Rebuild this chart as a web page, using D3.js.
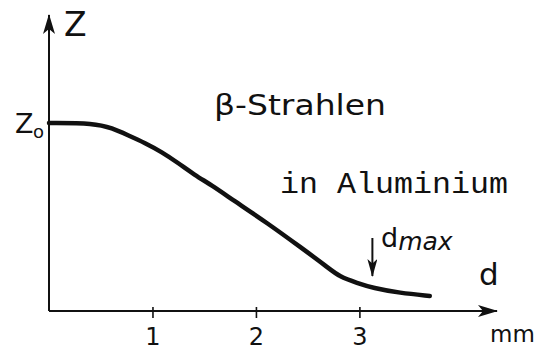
<!DOCTYPE html>
<html>
<head>
<meta charset="utf-8">
<script src="https://cdn.jsdelivr.net/npm/d3@7"></script>
<style>
  html, body { margin: 0; padding: 0; background: #fff; }
  svg { display: block; }
  text { fill: #111; }
</style>
</head>
<body>
<svg id="chart" width="536" height="351"></svg>
<script>
// Absorption of beta rays in aluminium: relative count rate Z vs. thickness d
const depthMM = [0, 0.44, 0.61, 0.76, 0.93, 1.09, 1.25, 1.41, 1.57, 1.78, 2.11, 2.43, 2.69, 2.81, 2.98, 3.13, 3.39, 3.68];
const countZ  = [1, 1, 0.973, 0.936, 0.894, 0.846, 0.787, 0.723, 0.670, 0.590, 0.468, 0.340, 0.234, 0.181, 0.149, 0.122, 0.096, 0.080];
const tickValues = [1, 2, 3];
const tickLabels = ["1", "2", "3"];
const dMax = 3.0;

const svg = d3.select("#chart");
const ink = "#111";

const x = d3.scaleLinear().domain([0, 4.33]).range([49, 497]);
const y = d3.scaleLinear().domain([0, 1.575]).range([311, 15]);

// Arrow head markers
const defs = svg.append("defs");
function arrowMarker(id, len, wid) {
  defs.append("marker")
    .attr("id", id)
    .attr("viewBox", `0 0 ${len} ${wid}`)
    .attr("refX", len - 1).attr("refY", wid / 2)
    .attr("markerWidth", len).attr("markerHeight", wid)
    .attr("markerUnits", "userSpaceOnUse")
    .attr("orient", "auto")
    .append("path")
    .attr("d", `M0,0 L${len},${wid / 2} L0,${wid} L${len * 0.25},${wid / 2} Z`)
    .attr("fill", ink);
}
arrowMarker("arrow", 20, 12);
arrowMarker("arrowSmall", 18, 10);

// Axes with arrows
svg.append("line")
  .attr("x1", x(0)).attr("y1", y(0))
  .attr("x2", x(0)).attr("y2", y(1.575))
  .attr("stroke", ink).attr("stroke-width", 2)
  .attr("marker-end", "url(#arrow)");
svg.append("line")
  .attr("x1", x(0)).attr("y1", y(0))
  .attr("x2", x(4.33)).attr("y2", y(0))
  .attr("stroke", ink).attr("stroke-width", 2)
  .attr("marker-end", "url(#arrow)");

// Ticks on the d axis
const xAxis = d3.axisBottom(x)
  .tickValues(tickValues)
  .tickFormat((d, i) => tickLabels[i])
  .tickSize(11);
const gx = svg.append("g")
  .attr("transform", `translate(0,${y(0) - 4})`)
  .call(xAxis);
gx.select(".domain").remove();
gx.selectAll(".tick line").attr("stroke", ink).attr("stroke-width", 1.6);
gx.selectAll(".tick text")
  .attr("y", 38).attr("dy", null)
  .attr("font-family", "DejaVu Sans, sans-serif")
  .attr("font-size", 24)
  .attr("fill", ink);

// Absorption curve
const line = d3.line()
  .x((d, i) => x(depthMM[i]))
  .y((d, i) => y(countZ[i]))
  .curve(d3.curveBasis);
svg.append("path")
  .datum(countZ)
  .attr("d", line)
  .attr("fill", "none")
  .attr("stroke", ink)
  .attr("stroke-width", 4.5)
  .attr("stroke-linecap", "round");

// Axis names
const sans = "DejaVu Sans, sans-serif";
svg.append("text").attr("x", 64).attr("y", 36)
  .attr("font-family", sans).attr("font-size", 33).text("Z");
svg.append("text").attr("x", 15).attr("y", 133)
  .attr("font-family", sans).attr("font-size", 27).text("Z");
svg.append("text").attr("x", 33).attr("y", 138)
  .attr("font-family", sans).attr("font-size", 18).text("o");
svg.append("text").attr("x", 479).attr("y", 285)
  .attr("font-family", sans).attr("font-size", 31).text("d");
svg.append("text").attr("x", 490).attr("y", 342)
  .attr("font-family", sans).attr("font-size", 23).text("mm");

// Titles
svg.append("text").attr("x", 214).attr("y", 115)
  .attr("font-family", sans).attr("font-size", 28)
  .attr("textLength", 172).attr("lengthAdjust", "spacingAndGlyphs")
  .text("β-Strahlen");
svg.append("text").attr("x", 280).attr("y", 193)
  .attr("font-family", "Liberation Mono, Courier New, monospace").attr("font-size", 30)
  .attr("textLength", 228).attr("lengthAdjust", "spacingAndGlyphs")
  .text("in Aluminium");

// d_max marker
const xm = x(dMax) + 13;
svg.append("line")
  .attr("x1", xm).attr("y1", 238)
  .attr("x2", xm).attr("y2", 276)
  .attr("stroke", ink).attr("stroke-width", 2)
  .attr("marker-end", "url(#arrowSmall)");
const dm = svg.append("text").attr("x", 381).attr("y", 247)
  .attr("font-family", sans).attr("font-size", 27);
dm.append("tspan").text("d");
dm.append("tspan").attr("font-style", "italic").attr("font-size", 25)
  .attr("dy", 3).text("max");
</script>
</body>
</html>
